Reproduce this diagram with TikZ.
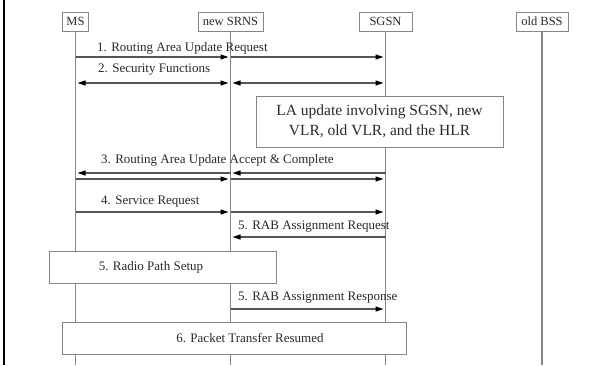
\documentclass[tikz,border=0pt]{standalone}
\usepackage{fontspec}
\setmainfont{Liberation Serif}
\usetikzlibrary{arrows.meta}
\definecolor{lifegray}{HTML}{858585}
\definecolor{msggray}{HTML}{555555}
\definecolor{txtgray}{HTML}{2A2A2A}
\tikzset{
  tipk/.tip={Triangle[length=8pt,width=5pt,color=black]},
  hdr/.style={draw=lifegray, line width=1pt, fill=white, minimum height=19pt, inner sep=0pt, text=txtgray, font=\fontsize{12.5}{14}\selectfont},
  life/.style={draw=lifegray, line width=1.3pt},
  msg/.style={draw=msggray, line width=1.2pt, -tipk, shorten >=2pt},
  bimsg/.style={draw=msggray, line width=1.2pt, tipk-tipk, shorten >=2pt, shorten <=2pt},
  lbl/.style={anchor=west, inner sep=0pt, text=txtgray, font=\fontsize{13}{15}\selectfont},
  procbox/.style={draw=lifegray, line width=1pt, fill=white, inner sep=0pt},
  proctext/.style={text=txtgray, inner sep=0pt, font=\fontsize{13}{15}\selectfont},
}
\begin{document}
\begin{tikzpicture}[x=1pt,y=1pt]
\useasboundingbox (0,0) rectangle (605,-365);
\fill[white] (0,0) rectangle (605,-365);
% left border
\draw[black, line width=2.2pt] (4,0) -- (4,-365);
% headers
\node[hdr, minimum width=26pt] (ms) at (75.5,-21.5) {MS};
\node[hdr, minimum width=65pt] (srns) at (230.5,-21.5) {new SRNS};
\node[hdr, minimum width=53pt] (sgsn) at (385.5,-21.5) {SGSN};
\node[hdr, minimum width=52pt] (bss) at (542,-21.5) {old BSS};
% bottom coordinate
\coordinate (bot) at (0,-365);
\draw[life] (ms.south) -- (ms |- bot);
\draw[life] (srns.south) -- (srns |- bot);
\draw[life] (sgsn.south) -- (sgsn |- bot);
\draw[life] (bss.south) -- (bss |- bot);
% rows
\coordinate (r1) at (0,-57);
\coordinate (r2) at (0,-83);
\coordinate (r3a) at (0,-173);
\coordinate (r3b) at (0,-179);
\coordinate (r4) at (0,-212);
\coordinate (r5) at (0,-237);
\coordinate (r6) at (0,-309);
% 1
\node[lbl] (l1) at (97,-48) {1. Routing Area Update Request};
\draw[msg] (ms |- r1) -- (srns |- r1);
\draw[msg] (srns |- r1) -- (sgsn |- r1);
% 2
\node[lbl] (l2) at (98,-70) {2. Security Functions};
\draw[bimsg] (ms |- r2) -- (srns |- r2);
\draw[bimsg] (srns |- r2) -- (sgsn |- r2);
% LA update box
\node[procbox, minimum width=247pt, minimum height=51pt] (la) at (379.5,-121.5) {};
\node[text=txtgray, align=center, inner sep=0pt, font=\fontsize{15.5}{20}\selectfont] (latxt) at (la.center) {LA update involving SGSN, new\\VLR, old VLR, and the HLR};
% 3
\node[lbl] (l3) at (101,-160) {3. Routing Area Update Accept \& Complete};
\draw[msg] (sgsn |- r3a) -- (srns |- r3a);
\draw[msg] (srns |- r3a) -- (ms |- r3a);
\draw[msg] (ms |- r3b) -- (srns |- r3b);
\draw[msg] (srns |- r3b) -- (sgsn |- r3b);
% 4
\node[lbl] (l4) at (101,-202) {4. Service Request};
\draw[msg] (ms |- r4) -- (srns |- r4);
\draw[msg] (srns |- r4) -- (sgsn |- r4);
% 5
\node[lbl] (l5) at (238,-227) {5. RAB Assignment Request};
\draw[msg] (sgsn |- r5) -- (srns |- r5);
% Radio path setup
\node[procbox, minimum width=227pt, minimum height=32pt] (radio) at (162.5,-267) {};
\node[proctext] (radiotxt) at (151,-267) {5. Radio Path Setup};
% 5 response
\node[lbl] (l6) at (238,-298) {5. RAB Assignment Response};
\draw[msg] (srns |- r6) -- (sgsn |- r6);
% Packet transfer
\node[procbox, minimum width=344pt, minimum height=32pt] (pkt) at (234,-338) {};
\node[proctext] (pkttxt) at (250,-338) {6. Packet Transfer Resumed};
\end{tikzpicture}
\end{document}
